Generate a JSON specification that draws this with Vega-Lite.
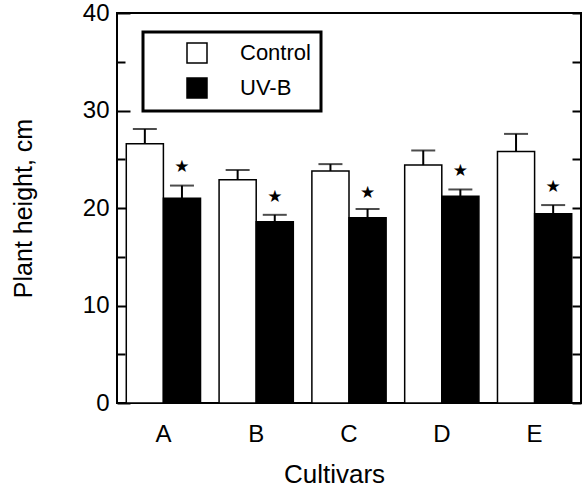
{
  "$schema": "https://vega.github.io/schema/vega-lite/v6.json",
  "width": 464,
  "height": 390,
  "autosize": "none",
  "padding": {"left": 117, "top": 13, "right": 5, "bottom": 87},
  "background": "white",
  "config": {
    "view": {"stroke": "black", "strokeWidth": 2},
    "font": "Liberation Sans",
    "axis": {"domain": false, "grid": false, "labelColor": "black", "titleColor": "black", "labelFont": "Liberation Sans", "titleFont": "Liberation Sans", "titleFontWeight": "normal"}
  },
  "data": {
    "values": [
      {"cultivar": "A", "treatment": "Control", "height": 26.6, "upper": 28.1},
      {"cultivar": "A", "treatment": "UV-B", "height": 21.0, "upper": 22.3, "star": 24.2},
      {"cultivar": "B", "treatment": "Control", "height": 22.9, "upper": 23.9},
      {"cultivar": "B", "treatment": "UV-B", "height": 18.6, "upper": 19.3, "star": 21.1},
      {"cultivar": "C", "treatment": "Control", "height": 23.8, "upper": 24.5},
      {"cultivar": "C", "treatment": "UV-B", "height": 19.0, "upper": 19.9, "star": 21.5},
      {"cultivar": "D", "treatment": "Control", "height": 24.4, "upper": 25.9},
      {"cultivar": "D", "treatment": "UV-B", "height": 21.2, "upper": 21.9, "star": 23.8},
      {"cultivar": "E", "treatment": "Control", "height": 25.8, "upper": 27.6},
      {"cultivar": "E", "treatment": "UV-B", "height": 19.4, "upper": 20.3, "star": 22.2}
    ]
  },
  "encoding": {
    "x": {
      "field": "cultivar", "type": "nominal",
      "scale": {"paddingInner": 0.2, "paddingOuter": 0.1},
      "axis": {"title": "Cultivars", "labelAngle": 0, "ticks": false, "labelFontSize": 24, "labelPadding": 19, "titleFontSize": 26, "titleX": 217, "titleY": 79, "titleBaseline": "alphabetic"}
    },
    "xOffset": {"field": "treatment", "type": "nominal", "scale": {"domain": ["Control", "UV-B"], "paddingInner": 0, "paddingOuter": 0}}
  },
  "layer": [
    {
      "mark": {"type": "bar", "stroke": "black", "strokeWidth": 1.5},
      "encoding": {
        "y": {
          "field": "height", "type": "quantitative",
          "scale": {"domain": [0, 40]},
          "axis": {
            "title": "Plant height, cm",
            "values": [0, 5, 10, 15, 20, 25, 30, 35, 40],
            "labelExpr": "datum.value % 10 === 0 ? datum.label : ''",
            "tickSize": {"condition": {"test": "datum.value % 10 === 0", "value": -13}, "value": -8},
            "tickWidth": 2, "tickColor": "black",
            "labelFontSize": 24, "labelPadding": 21,
            "titleFontSize": 25, "titleX": -86, "titleY": 195, "titleAngle": -90, "titleAlign": "center", "titleBaseline": "alphabetic"
          }
        },
        "color": {
          "field": "treatment", "type": "nominal",
          "scale": {"domain": ["Control", "UV-B"], "range": ["white", "black"]},
          "legend": {
            "orient": "none", "legendX": 26, "legendY": 19, "title": null, "direction": "vertical",
            "strokeColor": "black", "fillColor": "white", "padding": 10,
            "symbolType": "square", "symbolSize": 400, "symbolStrokeColor": "black", "symbolStrokeWidth": 1.5,
            "symbolOffset": 33, "labelOffset": 32, "labelFontSize": 22, "rowPadding": 9,
            "labelFont": "Liberation Sans", "labelColor": "black",
            "encode": {"legend": {"update": {"strokeWidth": {"value": 3}}}}
          }
        }
      }
    },
    {
      "mark": {"type": "rule", "strokeWidth": 2, "color": "black"},
      "encoding": {
        "y": {
          "field": "height", "type": "quantitative",
          "axis": {"orient": "right", "title": null, "labels": false, "values": [0, 5, 10, 15, 20, 25, 30, 35, 40], "tickSize": -9, "tickWidth": 2, "tickColor": "black"}
        },
        "y2": {"field": "upper"}
      }
    },
    {
      "mark": {"type": "tick", "size": 24, "thickness": 2, "color": "black"},
      "encoding": {"y": {"field": "upper", "type": "quantitative", "axis": null}}
    },
    {
      "transform": [{"filter": "isValid(datum.star)"}],
      "mark": {"type": "text", "text": "★", "fontSize": 17, "baseline": "middle", "font": "DejaVu Sans", "color": "black"},
      "encoding": {"y": {"field": "star", "type": "quantitative", "axis": null}}
    }
  ],
  "resolve": {"axis": {"y": "independent"}}
}
